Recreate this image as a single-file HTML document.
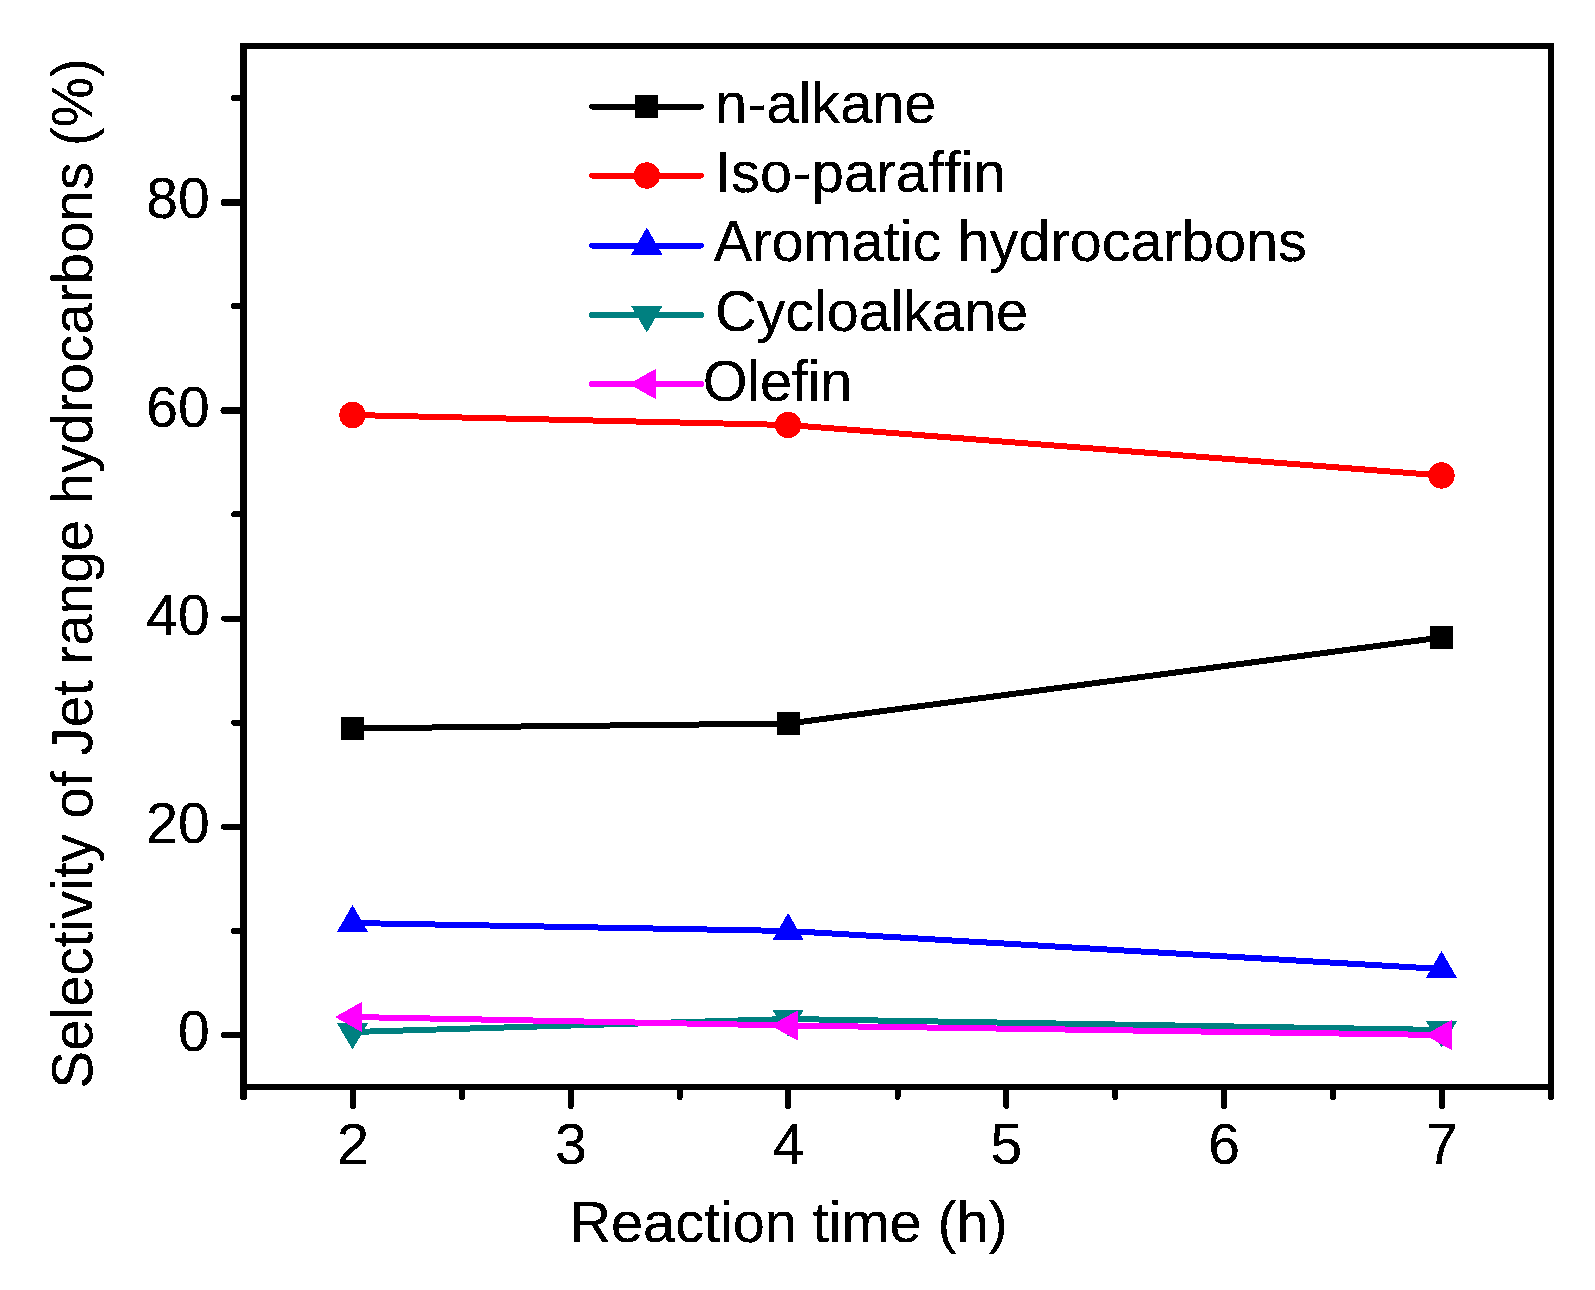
<!DOCTYPE html>
<html lang="en"><head><meta charset="utf-8"><title>Selectivity of Jet range hydrocarbons vs Reaction time</title>
<style>
html,body{margin:0;padding:0;background:#fff;}
body{width:1595px;height:1290px;overflow:hidden;}
svg{display:block;}
text{font-family:"Liberation Sans",sans-serif;fill:#000;stroke:#000;stroke-width:0.25px;stroke-linejoin:round;}
text{font-size:57.7px;font-kerning:none;font-variant-ligatures:none;font-feature-settings:"liga" 0,"kern" 0;}
.tk text{font-size:57px;}
</style></head><body>
<svg width="1595" height="1290" viewBox="0 0 1595 1290">
<defs><filter id="alias" filterUnits="userSpaceOnUse" x="0" y="0" width="1595" height="1290" color-interpolation-filters="sRGB"><feComponentTransfer><feFuncA type="discrete" tableValues="0 1"/></feComponentTransfer></filter></defs>
<rect x="0" y="0" width="1595" height="1290" fill="#fff"/>
<g fill="#000" shape-rendering="crispEdges">
<rect x="240" y="43" width="1314" height="6"/>
<rect x="240" y="1084" width="1314" height="6"/>
<rect x="240" y="43" width="7" height="1047"/>
<rect x="1548" y="43" width="6" height="1047"/>
</g>
<g stroke="#000" stroke-width="6" stroke-linecap="round" fill="none" shape-rendering="crispEdges">
<line x1="243" y1="1035.00" x2="224" y2="1035.00"/>
<line x1="243" y1="826.75" x2="224" y2="826.75"/>
<line x1="243" y1="618.50" x2="224" y2="618.50"/>
<line x1="243" y1="410.50" x2="224" y2="410.50" stroke-width="7"/>
<line x1="243" y1="202.45" x2="224" y2="202.45" stroke-width="7"/>
<line x1="243" y1="930.9" x2="234" y2="930.9"/>
<line x1="243" y1="722.6" x2="234" y2="722.6"/>
<line x1="243" y1="514.4" x2="234" y2="514.4"/>
<line x1="243" y1="306.1" x2="234" y2="306.1"/>
<line x1="243" y1="97.9" x2="234" y2="97.9"/>
<line x1="353.0" y1="1087" x2="353.0" y2="1106"/>
<line x1="570.8" y1="1087" x2="570.8" y2="1106"/>
<line x1="788.0" y1="1087" x2="788.0" y2="1106"/>
<line x1="1006.4" y1="1087" x2="1006.4" y2="1106"/>
<line x1="1224.2" y1="1087" x2="1224.2" y2="1106"/>
<line x1="1442.0" y1="1087" x2="1442.0" y2="1106"/>
<line x1="243.5" y1="1087" x2="243.5" y2="1097" stroke-width="7"/>
<line x1="461.9" y1="1087" x2="461.9" y2="1097"/>
<line x1="679.7" y1="1087" x2="679.7" y2="1097"/>
<line x1="897.5" y1="1087" x2="897.5" y2="1097"/>
<line x1="1115.3" y1="1087" x2="1115.3" y2="1097"/>
<line x1="1333.1" y1="1087" x2="1333.1" y2="1097"/>
<line x1="1551.0" y1="1087" x2="1551.0" y2="1097"/>
</g>
<g class="tk" filter="url(#alias)">
<text transform="translate(209.6,1051.4) scale(1,0.999)" text-anchor="end">0</text>
<text transform="translate(209.6,843.1) scale(1,0.999)" text-anchor="end">20</text>
<text transform="translate(209.6,634.9) scale(1,0.999)" text-anchor="end">40</text>
<text transform="translate(209.6,426.6) scale(1,0.999)" text-anchor="end">60</text>
<text transform="translate(209.6,218.4) scale(1,0.999)" text-anchor="end">80</text>
<text transform="translate(353.0,1164) scale(1,0.999)" text-anchor="middle">2</text>
<text transform="translate(570.8,1164) scale(1,0.999)" text-anchor="middle">3</text>
<text transform="translate(788.6,1164) scale(1,0.999)" text-anchor="middle">4</text>
<text transform="translate(1006.4,1164) scale(1,0.999)" text-anchor="middle">5</text>
<text transform="translate(1224.2,1164) scale(1,0.999)" text-anchor="middle">6</text>
<text transform="translate(1442.0,1164) scale(1,0.999)" text-anchor="middle">7</text>
</g>
<g filter="url(#alias)">
<text class="ti" transform="translate(569.5,1242) scale(1,0.999)" textLength="438.3" lengthAdjust="spacing">Reaction time (h)</text>
<text class="ti" transform="translate(92.3,1088.6) rotate(-90) scale(0.9797,1)">Selectivity of Jet range hydrocarbons (%)</text>
</g>
<g shape-rendering="crispEdges">
<polyline points="353.0,728.4 788.6,723.5 1442.0,637.4" fill="none" stroke="#000000" stroke-width="6" stroke-linejoin="round"/>
<rect x="341.0" y="716.9" width="23" height="23" fill="#000000"/>
<rect x="776.6" y="712.0" width="23" height="23" fill="#000000"/>
<rect x="1430.0" y="625.9" width="23" height="23" fill="#000000"/>
<polyline points="353.0,415.0 788.6,425.0 1442.0,475.5" fill="none" stroke="#ff0000" stroke-width="6" stroke-linejoin="round"/>
<circle cx="352.5" cy="415.0" r="13.2" fill="#ff0000"/>
<circle cx="788.1" cy="425.0" r="13.2" fill="#ff0000"/>
<circle cx="1441.5" cy="475.5" r="13.2" fill="#ff0000"/>
<polyline points="353.0,923.0 788.6,931.0 1442.0,969.0" fill="none" stroke="#0000ff" stroke-width="6" stroke-linejoin="round"/>
<polygon points="352.5,905.0 368.1,932.0 336.9,932.0" fill="#0000ff"/>
<polygon points="788.1,913.0 803.7,940.0 772.5,940.0" fill="#0000ff"/>
<polygon points="1441.5,951.0 1457.1,978.0 1425.9,978.0" fill="#0000ff"/>
<polyline points="353.0,1032.0 788.6,1019.0 1442.0,1030.0" fill="none" stroke="#008080" stroke-width="6" stroke-linejoin="round"/>
<polygon points="352.5,1049.5 368.1,1023.0 336.9,1023.0" fill="#008080"/>
<polygon points="788.1,1036.5 803.7,1010.0 772.5,1010.0" fill="#008080"/>
<polygon points="1441.5,1047.5 1457.1,1021.0 1425.9,1021.0" fill="#008080"/>
<polyline points="353.0,1017.0 788.6,1025.5 1442.0,1035.0" fill="none" stroke="#ff00ff" stroke-width="6" stroke-linejoin="round"/>
<polygon points="334.9,1017.0 362.3,1001.7 362.3,1032.3" fill="#ff00ff"/>
<polygon points="770.7,1025.5 798.1,1010.2 798.1,1040.8" fill="#ff00ff"/>
<polygon points="1424.7,1035.0 1452.1,1019.7 1452.1,1050.3" fill="#ff00ff"/>
<line x1="592" y1="106.5" x2="701" y2="106.5" stroke="#000000" stroke-width="6" stroke-linecap="round"/>
<rect x="635.3" y="95.0" width="23" height="23" fill="#000000"/>
<line x1="592" y1="175.5" x2="701" y2="175.5" stroke="#ff0000" stroke-width="6" stroke-linecap="round"/>
<circle cx="646.8" cy="175.5" r="13.2" fill="#ff0000"/>
<line x1="592" y1="245.5" x2="701" y2="245.5" stroke="#0000ff" stroke-width="6" stroke-linecap="round"/>
<polygon points="646.8,227.5 662.4,254.5 631.2,254.5" fill="#0000ff"/>
<line x1="592" y1="315" x2="701" y2="315" stroke="#008080" stroke-width="6" stroke-linecap="round"/>
<polygon points="646.8,332.5 662.4,306.0 631.2,306.0" fill="#008080"/>
<line x1="592" y1="384" x2="701" y2="384" stroke="#ff00ff" stroke-width="6" stroke-linecap="round"/>
<polygon points="628.7,384.0 656.1,368.7 656.1,399.3" fill="#ff00ff"/>
</g>
<g filter="url(#alias)">
<text class="lg" transform="translate(715.1,122.6) scale(1,0.999)">n-alkane</text>
<text class="lg" transform="translate(714.8,192) scale(1,0.999)" textLength="290.8" lengthAdjust="spacing">Iso-paraffin</text>
<text class="lg" transform="translate(713.8,261.1) scale(1,0.999)">Aromatic hydrocarbons</text>
<text class="lg" transform="translate(714.9,330.8) scale(1,0.999)" textLength="313.3" lengthAdjust="spacing">Cycloalkane</text>
<text class="lg" transform="translate(702.7,400.9) scale(1,0.999)" textLength="149.6" lengthAdjust="spacing">Olefin</text>
</g>
</svg></body></html>
